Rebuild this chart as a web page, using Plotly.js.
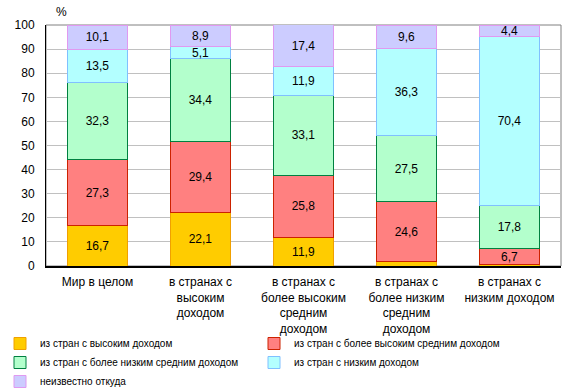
<!DOCTYPE html>
<html><head><meta charset="utf-8">
<script src="https://cdn.plot.ly/plotly-3.0.1.min.js"></script>
<style>body{margin:0;background:#fff}#c{width:576px;height:390px}</style>
</head><body><div id="c"></div>
<script>
const categories = ["Мир в целом", "в странах с<br>высоким<br>доходом", "в странах с<br>более высоким<br>средним<br>доходом", "в странах с<br>более низким<br>средним<br>доходом", "в странах с<br>низким доходом"];
const seriesNames = ["из стран с высоким доходом", "из стран с более высоким средним доходом", "из стран с более низким средним доходом", "из стран с низким доходом", "неизвестно откуда"];
const highIncome = [16.7, 22.1, 11.9, 2.0, 0.5];
const upperMiddle = [27.3, 29.4, 25.8, 24.6, 6.7];
const lowerMiddle = [32.3, 34.4, 33.1, 27.5, 17.8];
const lowIncome = [13.5, 5.1, 11.9, 36.3, 70.4];
const unknown = [10.1, 8.9, 17.4, 9.6, 4.4];
const yTicks = [0,10,20,30,40,50,60,70,80,90,100];

const fills = ["#FFCC00", "#FF8080", "#B3FFCC", "#B3FFFF", "#CCCCFF"];
const lines = ["#F0A000", "#CC2200", "#008040", "#80C0FF", "#E099F0"];
const allSeries = [highIncome, upperMiddle, lowerMiddle, lowIncome, unknown];
const fmt = v => v >= 3 ? v.toFixed(1).replace('.', ',') : '';

const traces = allSeries.map((vals, i) => ({
  type: 'bar', name: seriesNames[i], x: categories, y: vals,
  text: vals.map(fmt), textposition: 'inside', insidetextanchor: 'middle',
  textfont: {family: 'Liberation Sans, Arial', size: 12, color: '#000'},
  marker: {color: fills[i], line: {color: lines[i], width: 1}},
  hoverinfo: 'none'
}));

const layout = {
  width: 576, height: 390, barmode: 'stack', bargap: 0.42,
  margin: {l: 46, r: 15, t: 25, b: 124},
  paper_bgcolor: '#fff', plot_bgcolor: '#fff',
  font: {family: 'Liberation Sans, Arial', size: 12, color: '#000'},
  uniformtext: {minsize: 12, mode: 'show'},
  xaxis: {showline: true, linecolor: '#000', linewidth: 1.5, ticks: '', tickfont: {size: 12},
          ticklabelstandoff: 4, automargin: false},
  yaxis: {range: [0, 100], tickvals: yTicks, showgrid: true, gridcolor: '#C0C0C0', gridwidth: 1,
          showline: true, linecolor: '#000', linewidth: 1, ticks: '', zeroline: false,
          tickfont: {size: 12}, ticklabelstandoff: 8, automargin: false},
  showlegend: true,
  legend: {orientation: 'h', xref: 'container', yref: 'container', x: -6/576, xanchor: 'left',
           y: 1 - 329/390, yanchor: 'top', bgcolor: 'rgba(0,0,0,0)',
           entrywidth: 209, entrywidthmode: 'pixels', itemwidth: 30,
           font: {size: 10, color: '#000'}, traceorder: 'normal', tracegroupgap: 0},
  shapes: [{type: 'rect', xref: 'paper', yref: 'paper', x0: 0, x1: 1, y0: 0, y1: 1,
            line: {color: '#808080', width: 1}, layer: 'below'}],
  annotations: [{text: '%', xref: 'paper', yref: 'paper', x: 0.015, y: 1.015, xanchor: 'left', yanchor: 'bottom',
                 showarrow: false, font: {size: 12}}]
};
Plotly.newPlot('c', traces, layout, {displayModeBar: false, staticPlot: true});
</script></body></html>
